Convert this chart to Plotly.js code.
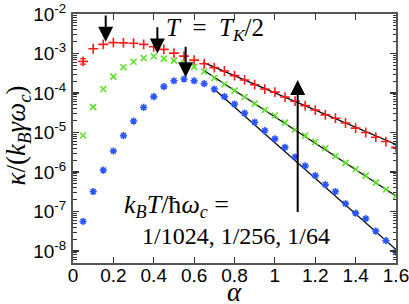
<!DOCTYPE html>
<html>
<head>
<meta charset="utf-8">
<script src="https://cdn.plot.ly/plotly-3.0.1.min.js"></script>
<style>html,body{margin:0;padding:0;background:#fff;}#chart{width:409px;height:304px;}</style>
</head>
<body>
<div id="chart"></div>
<script>
const alpha = [0.05,0.1,0.15,0.2,0.25,0.3,0.35,0.4,0.45,0.5,0.55,0.6,0.65,0.7,0.75,0.8,
  0.85,0.9,0.95,1.0,1.05,1.1,1.15,1.2,1.25,1.3,1.35,1.4,1.45,1.5,1.55,1.6];
// k_B T / hbar omega_c = 1/64 (red), 1/256 (green), 1/1024 (blue)
const kappaRed = [6.3e-4,1.32e-3,1.70e-3,1.88e-3,1.86e-3,1.82e-3,1.70e-3,1.48e-3,1.27e-3,1.02e-3,8.6e-4,6.8e-4,
  5.5e-4,4.4e-4,3.6e-4,2.75e-4,2.14e-4,1.62e-4,1.26e-4,1.05e-4,7.9e-5,6.2e-5,4.8e-5,3.7e-5,
  2.8e-5,2.3e-5,1.74e-5,1.29e-5,1.0e-5,7.6e-6,5.9e-6,4.2e-6];
const kappaGreen = [8.4e-6,4.4e-5,1.26e-4,2.6e-4,4.5e-4,6.2e-4,7.7e-4,8.5e-4,7.4e-4,6.6e-4,5.75e-4,4.6e-4,
  3.5e-4,2.4e-4,1.66e-4,1.15e-4,7.9e-5,5.4e-5,3.7e-5,2.7e-5,1.78e-5,1.17e-5,8.3e-6,5.75e-6,
  4.0e-6,2.5e-6,1.7e-6,1.17e-6,8.1e-7,5.4e-7,3.6e-7,2.5e-7];
const kappaBlue = [5.6e-8,3.2e-7,1.12e-6,3.4e-6,8.3e-6,1.95e-5,4.3e-5,8.1e-5,1.45e-4,2.04e-4,2.26e-4,2.04e-4,
  1.72e-4,1.26e-4,8.1e-5,5.25e-5,3.1e-5,1.82e-5,1.12e-5,6.9e-6,4.2e-6,2.4e-6,1.43e-6,8.1e-7,
  4.8e-7,3.2e-7,1.58e-7,9.1e-8,6.6e-8,3.2e-8,1.82e-8,9.3e-9];
// error bar on the first red point
const errAlpha = [0.05];
const errKappa = [6.3e-4];
const errPlus = [1.1e-4];
const errMinus = [0.9e-4];
// power-law fit lines
const fitRedX = [0.645, 1.6],   fitRedY = [5.96e-4, 5.0e-6];
const fitGreenX = [0.645, 1.6], fitGreenY = [3.8e-4, 2.48e-7];
const fitBlueX = [0.69, 1.6],   fitBlueY = [1.38e-4, 1.08e-8];
// arrows: [alpha, log10 tip, log10 tail]
const arrowAlpha = [0.162, 0.418, 0.558, 1.113];
const arrowTip  = [-2.70, -3.00, -3.60, -3.67];
const arrowTail = [-2.00, -2.30, -2.79, -7.05];
// tick labels
const xTickVals = [0,0.2,0.4,0.6,0.8,1,1.2,1.4,1.6];
const xTickText = ['0','0.2','0.4','0.6','0.8','1','1.2','1.4','1.6'];
const yTickVals = [1e-8,1e-7,1e-6,1e-5,1e-4,1e-3,1e-2];
const yTickText = ['10<sup>-8</sup>','10<sup>-7</sup>','10<sup>-6</sup>','10<sup>-5</sup>','10<sup>-4</sup>','10<sup>-3</sup>','10<sup>-2</sup>'];

const RED = '#ff1a1a', GREEN = '#5ee02a', BLUE = '#2a55ff';
const serif = 'Liberation Serif, Times New Roman, serif';
const sans = 'Liberation Sans, Arial, Helvetica, sans-serif';

const lineStyle = {color:'#000', width:1.2};
const traces = [
  {x:fitRedX, y:fitRedY, mode:'lines', line:lineStyle, hoverinfo:'skip'},
  {x:fitGreenX, y:fitGreenY, mode:'lines', line:lineStyle, hoverinfo:'skip'},
  {x:fitBlueX, y:fitBlueY, mode:'lines', line:lineStyle, hoverinfo:'skip'},
  {x:alpha, y:kappaRed, mode:'markers', marker:{symbol:'cross-thin-open', size:7, color:RED, line:{color:RED, width:1.6}}},
  {x:alpha, y:kappaGreen, mode:'markers', marker:{symbol:'x-thin-open', size:6, color:GREEN, line:{color:GREEN, width:1.6}}},
  {x:alpha, y:kappaBlue, mode:'markers', marker:{symbol:'asterisk-open', size:6, color:BLUE, line:{color:BLUE, width:1.6}}},
  {x:errAlpha, y:errKappa, mode:'markers', marker:{size:1, color:'rgba(0,0,0,0)'},
   error_y:{type:'data', symmetric:false, array:errPlus, arrayminus:errMinus, color:RED, thickness:1.3, width:3}}
];

const annotations = arrowAlpha.map((a,i)=>({
  x:a, y:arrowTip[i], ax:a, ay:arrowTail[i], xref:'x', yref:'y', axref:'x', ayref:'y',
  showarrow:true, arrowhead:2, arrowsize:1.5, arrowwidth:2, arrowcolor:'#000', standoff:0, text:''
}));
annotations.push(
  {x:0.452, y:-2.40, xref:'x', yref:'y', xanchor:'left', yanchor:'middle', showarrow:false,
   text:'<i>T</i>&nbsp; = &nbsp;<i>T</i><sub><i>K</i></sub>/2', font:{family:serif, size:25, color:'#000'}},
  {x:0.245, y:-6.87, xref:'x', yref:'y', xanchor:'left', yanchor:'middle', showarrow:false,
   text:'<i>k</i><sub><i>B</i></sub><i>T</i>/ħ<i>ω</i><sub><i>c</i></sub>&nbsp;=', font:{family:serif, size:26, color:'#000'}},
  {x:0.33, y:-7.62, xref:'x', yref:'y', xanchor:'left', yanchor:'middle', showarrow:false,
   text:'1/1024, 1/256, 1/64', font:{family:serif, size:24, color:'#000'}},
  // y-axis title
  {x:-0.1703, y:0.512, xref:'paper', yref:'paper', xanchor:'center', yanchor:'middle', textangle:-90, showarrow:false,
   text:'<i>κ</i>/(<i>k</i><sub><i>B</i></sub><i>γω</i><sub><i>c</i></sub>)', font:{family:serif, size:27, color:'#000'}},
  // x-axis title
  {x:0.5, y:-0.118, xref:'paper', yref:'paper', xanchor:'center', yanchor:'middle', showarrow:false,
   text:'<i>α</i>', font:{family:serif, size:27, color:'#000'}}
);

const axisCommon = {
  showline:true, linecolor:'#555', linewidth:2, mirror:'ticks',
  ticks:'inside', ticklen:6, tickwidth:1.2, tickcolor:'#333',
  showgrid:false, zeroline:false, ticklabeloverflow:'allow',
  tickfont:{family:sans, size:19, color:'#000'}
};

const layout = {
  width:409, height:304,
  margin:{l:73, r:13, t:14, b:41},
  paper_bgcolor:'#fff', plot_bgcolor:'#fff',
  showlegend:false,
  xaxis:Object.assign({}, axisCommon, {
    range:[0,1.6], tickmode:'array', tickvals:xTickVals, ticktext:xTickText, ticklabelstandoff:-6
  }),
  yaxis:Object.assign({}, axisCommon, {
    type:'log', range:[-8.304,-2], tickmode:'array', tickvals:yTickVals, ticktext:yTickText, ticklabelstandoff:1,
    minor:{ticks:'inside', ticklen:3.5, dtick:'D1', tickwidth:1, tickcolor:'#333', showgrid:false}
  }),
  annotations:annotations
};

Plotly.newPlot('chart', traces, layout, {displayModeBar:false, staticPlot:true});
</script>
</body>
</html>
